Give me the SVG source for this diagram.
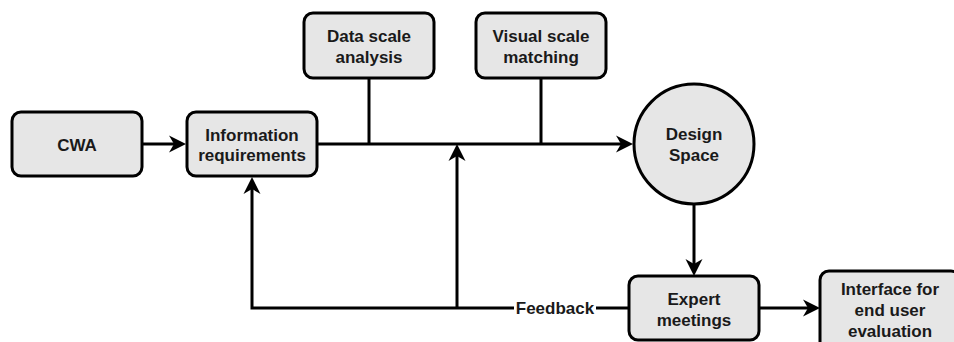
<svg xmlns="http://www.w3.org/2000/svg" width="954" height="342" viewBox="0 0 954 342">
<style>
.box{fill:#e6e6e6;stroke:#000;stroke-width:3}
.t{font-family:"Liberation Sans",Arial,sans-serif;font-size:17px;font-weight:bold;fill:#1a1a1a;text-anchor:middle;dominant-baseline:central}
.c{fill:none;stroke:#000;stroke-width:3}
</style>
<defs>
<marker id="arr" markerUnits="userSpaceOnUse" viewBox="-18 -10 20 20" markerWidth="20" markerHeight="20" refX="-12" refY="0" orient="auto">
<path d="M0,0 L-17,-8.5 L-12,0 L-17,8.5 Z" fill="#000"/>
</marker>
</defs>
<rect width="954" height="342" fill="#fff"/>
<g id="connectors">
<path class="c" d="M142,144 H174" marker-end="url(#arr)"/>
<path class="c" d="M317,144 H621" marker-end="url(#arr)"/>
<path class="c" d="M369,78 V144"/>
<path class="c" d="M541,78 V144"/>
<path class="c" d="M694,204 V264" marker-end="url(#arr)"/>
<path class="c" d="M759,308 H808" marker-end="url(#arr)"/>
<path class="c" d="M629,308 H252 V189" marker-end="url(#arr)"/>
<path class="c" d="M457,308 V156" marker-end="url(#arr)"/>
<rect x="514" y="298" width="82" height="20" fill="#fff"/>
<text class="t" x="555" y="308">Feedback</text>
</g>
<g id="cwa"><rect class="box" x="12" y="112" width="130" height="64" rx="9"/><text class="t" x="77" y="145">CWA</text></g>
<g id="info"><rect class="box" x="187" y="112" width="130" height="64" rx="9"/><text class="t" x="252" y="135">Information</text><text class="t" x="252" y="155">requirements</text></g>
<g id="data"><rect class="box" x="304" y="13" width="130" height="65" rx="9"/><text class="t" x="369" y="36">Data scale</text><text class="t" x="369" y="57">analysis</text></g>
<g id="visual"><rect class="box" x="476" y="13" width="130" height="65" rx="9"/><text class="t" x="541" y="36">Visual scale</text><text class="t" x="541" y="57">matching</text></g>
<g id="design"><circle class="box" cx="694" cy="144" r="60"/><text class="t" x="694" y="134">Design</text><text class="t" x="694" y="155">Space</text></g>
<g id="expert"><rect class="box" x="629" y="276" width="130" height="64" rx="9"/><text class="t" x="694" y="299">Expert</text><text class="t" x="694" y="320">meetings</text></g>
<g id="interface"><rect class="box" x="820" y="271" width="140" height="82" rx="9"/><text class="t" x="890" y="289">Interface for</text><text class="t" x="890" y="310">end user</text><text class="t" x="890" y="331">evaluation</text></g>
</svg>
